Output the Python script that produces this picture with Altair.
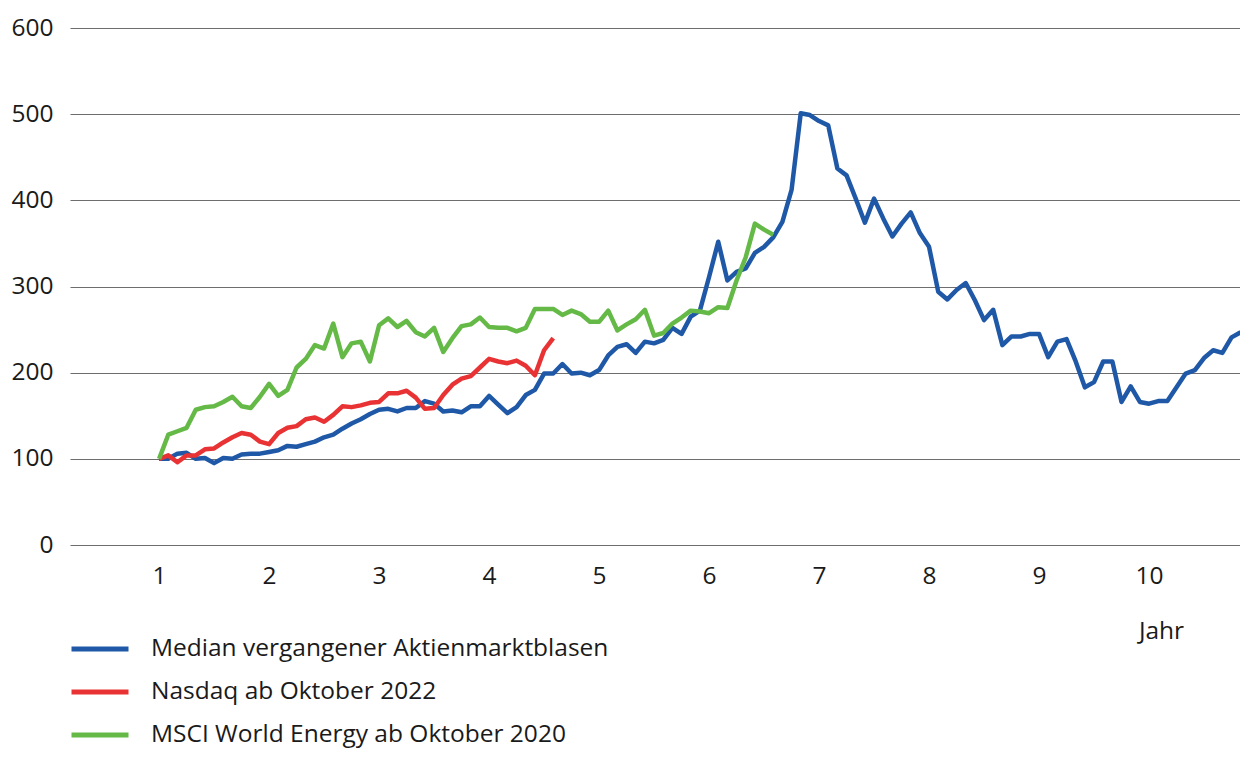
import altair as alt
import pandas as pd

# Monthly values (index 0 = year 1)
median_bubbles = [
    100, 100, 106, 107, 100, 101, 95, 101, 100, 105, 106, 106,
    108, 110, 115, 114, 117, 120, 125, 128, 135, 141, 146, 152,
    157, 158, 155, 159, 159, 167, 164, 155, 156, 154, 161, 161,
    173, 163, 153, 160, 174, 180, 199, 199, 210, 199, 200, 197,
    203, 220, 230, 233, 223, 236, 234, 238, 252, 245, 265, 272,
    311, 352, 307, 317, 321, 339, 346, 357, 375, 412, 501, 499,
    492, 487, 437, 429, 402, 374, 402, 379, 358, 373, 386, 362,
    346, 294, 285, 296, 304, 284, 261, 273, 232, 242, 242, 245,
    245, 218, 236, 239, 213, 183, 189, 213, 213, 166, 184, 166,
    164, 167, 167, 183, 199, 203, 217, 226, 223, 241, 247,
]
nasdaq = [
    100, 104, 96, 104, 104, 111, 112, 119, 125, 130, 128, 120,
    117, 130, 136, 138, 146, 148, 143, 151, 161, 160, 162, 165,
    166, 176, 176, 179, 171, 158, 159, 174, 186, 193, 196, 206,
    216, 213, 211, 214, 208, 197, 226, 240,
]
msci_energy = [
    100, 128, 132, 136, 157, 160, 161, 166, 172, 161, 159, 172,
    187, 173, 180, 206, 216, 232, 228, 257, 218, 234, 236, 213,
    255, 263, 253, 260, 247, 242, 252, 224, 240, 254, 256, 264,
    253, 252, 252, 248, 252, 274, 274, 274, 267, 272, 268, 259,
    259, 272, 249, 256, 262, 273, 243, 246, 257, 264, 272, 271,
    269, 276, 275, 307, 334, 373, 366, 360,
]
series_names = [
    "Median vergangener Aktienmarktblasen",
    "Nasdaq ab Oktober 2022",
    "MSCI World Energy ab Oktober 2020",
]
series_colors = ["#1f58a6", "#e93233", "#64b947"]
x_ticks = [1, 2, 3, 4, 5, 6, 7, 8, 9, 10]
y_ticks = [0, 100, 200, 300, 400, 500, 600]

rows = []
for name, vals in zip(series_names, [median_bubbles, nasdaq, msci_energy]):
    for i, v in enumerate(vals):
        rows.append({"Serie": name, "Jahr": 1 + i / 12, "Wert": v, "ord": i})
df = pd.DataFrame(rows)

FONT = "Open Sans, Lato, sans-serif"
FS = 24.5

chart = (
    alt.Chart(df)
    .mark_line(strokeWidth=4.5, strokeJoin="round", clip=True)
    .encode(
        x=alt.X(
            "Jahr:Q",
            scale=alt.Scale(domain=[0.19, 10.827], nice=False, zero=False),
            axis=alt.Axis(
                values=x_ticks,
                format="d",
                grid=False,
                domain=False,
                ticks=False,
                labelPadding=19,
                labelFontSize=FS,
                labelFont=FONT,
                labelColor="#1a1a1a",
                title="Jahr",
                titleFont=FONT,
                titleFontSize=FS,
                titleFontWeight="normal",
                titleColor="#1a1a1a",
                titleX=1091,
                titleY=86,
                titleAlign="center",
                titleBaseline="middle",
            ),
        ),
        y=alt.Y(
            "Wert:Q",
            scale=alt.Scale(domain=[0, 600], nice=False),
            axis=alt.Axis(
                values=y_ticks,
                grid=True,
                gridColor="#6e6e6e",
                gridWidth=1.2,
                domain=False,
                ticks=False,
                labelPadding=17,
                labelFontSize=FS,
                labelFont=FONT,
                labelColor="#1a1a1a",
                title=None,
            ),
        ),
        color=alt.Color(
            "Serie:N",
            scale=alt.Scale(domain=series_names, range=series_colors),
            legend=alt.Legend(
                title=None,
                orient="none",
                legendX=-1,
                legendY=590,
                direction="vertical",
                symbolType="stroke",
                symbolSize=3249,
                symbolStrokeWidth=5,
                labelFont=FONT,
                labelFontSize=FS,
                labelColor="#1a1a1a",
                labelOffset=20,
                rowPadding=-1.5,
                labelLimit=800,
            ),
        ),
        order="ord:Q",
    )
    .properties(
        width=1170,
        height=517,
        autosize=alt.AutoSizeParams(type="none"),
        padding={"left": 62, "top": 20, "right": 0, "bottom": 208},
    )
    .configure_view(stroke=None)
)

chart.save("out.html", embed_options={"renderer": "svg", "actions": False})
